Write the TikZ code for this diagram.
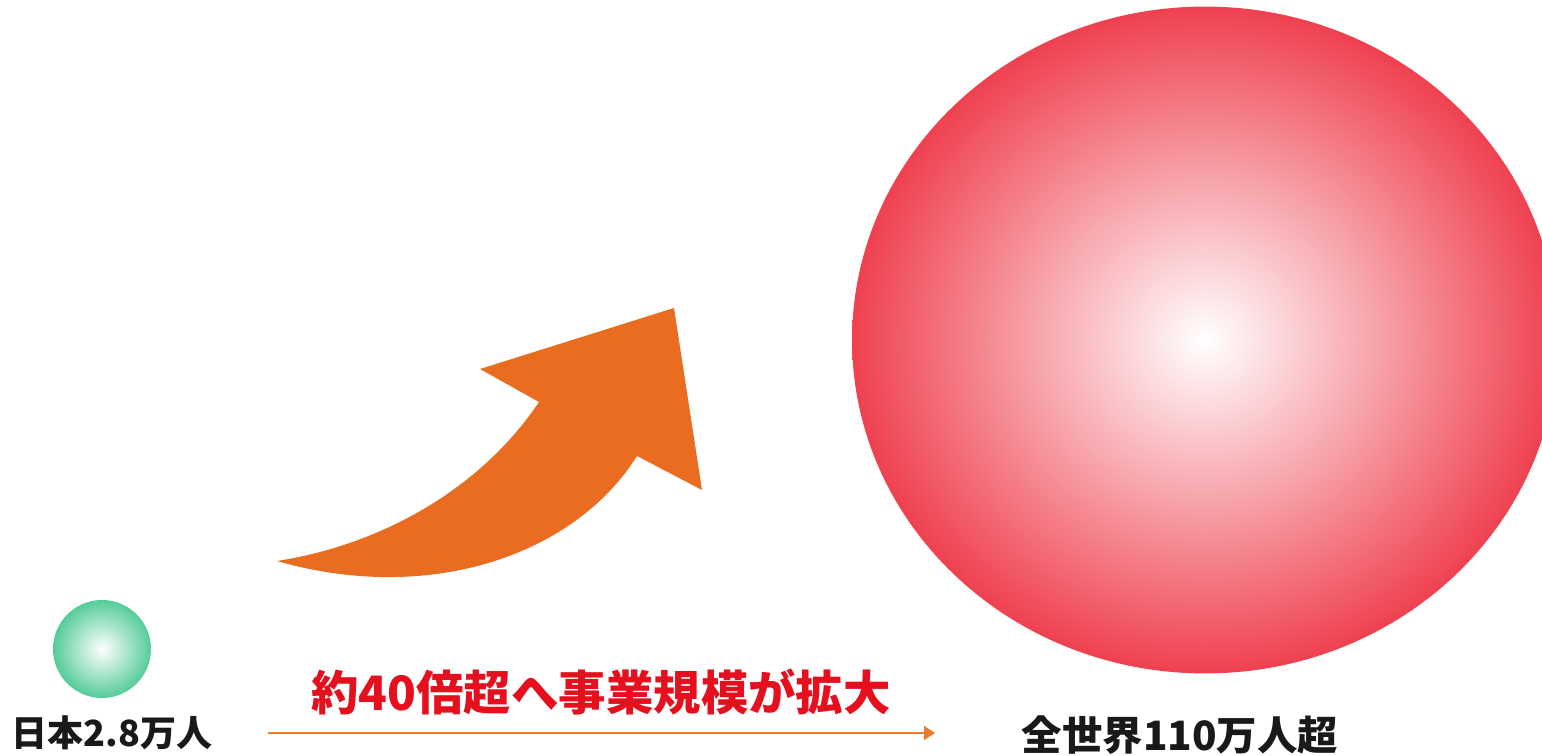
\documentclass[tikz,border=0pt]{standalone}
\usepackage{fontspec}
\usepackage{xcolor}
\usepackage{tikz}
\usetikzlibrary{shapes.geometric, arrows.meta, positioning}
\newfontfamily\jpfont{Noto Sans CJK JP}

\definecolor{mint}{HTML}{55CC98}
\definecolor{rosered}{HTML}{EF4150}
\definecolor{groworange}{HTML}{E96C20}
\definecolor{lineorange}{HTML}{EE7A2A}
\definecolor{msgred}{HTML}{E50F1E}

\begin{document}
\begin{tikzpicture}
  [
    x={(0.02cm,0)}, y={(0,-0.02cm)},
    Ball/.style={circle, inner sep=0pt, shading=radial, inner color=white},
    Egg/.style={ellipse, inner sep=0pt, shading=radial, inner color=white},
    Caption/.style={font=\jpfont\bfseries, text=black!90, inner sep=0pt},
    Message/.style={font=\jpfont\bfseries\fontsize{27}{31}\selectfont, text=msgred, inner sep=0pt}
  ]
  \useasboundingbox (0,0) rectangle (1542,756);
  \clip (0,0) rectangle (1542,756);

  % Nodes
  \node[Ball, outer color=mint, minimum size=1.96cm] (japan) at (102,649) {};
  \node[Egg, outer color=rosered, minimum width=14.12cm, minimum height=13.34cm] (world) at (1205,340) {};
  \node[Caption, font=\jpfont\bfseries\fontsize{20.5}{24}\selectfont] (japantext) at (112,733) {日本2.8万人};
  \node[Caption, font=\jpfont\bfseries\fontsize{23}{27}\selectfont] (worldtext) at (1180,735) {全世界110万人超};
  \node[Message] (scale) at (601,692) {約40倍超へ事業規模が拡大};
  \coordinate (growstart) at (268,733);
  \coordinate (growend) at (935,733);

  % Big arrow
  \fill[groworange] (277,561) .. controls (380,545) and (480,490) .. (539,402)
    -- (480,369) -- (674,308) -- (702,490) -- (637,456)
    .. controls (575,555) and (430,605) .. (277,561) -- cycle;

  % Lines
  \draw[lineorange, line width=1.2pt, -{Triangle[length=2.2mm, width=2.8mm]}] (growstart) -- (growend);

\end{tikzpicture}
\end{document}
